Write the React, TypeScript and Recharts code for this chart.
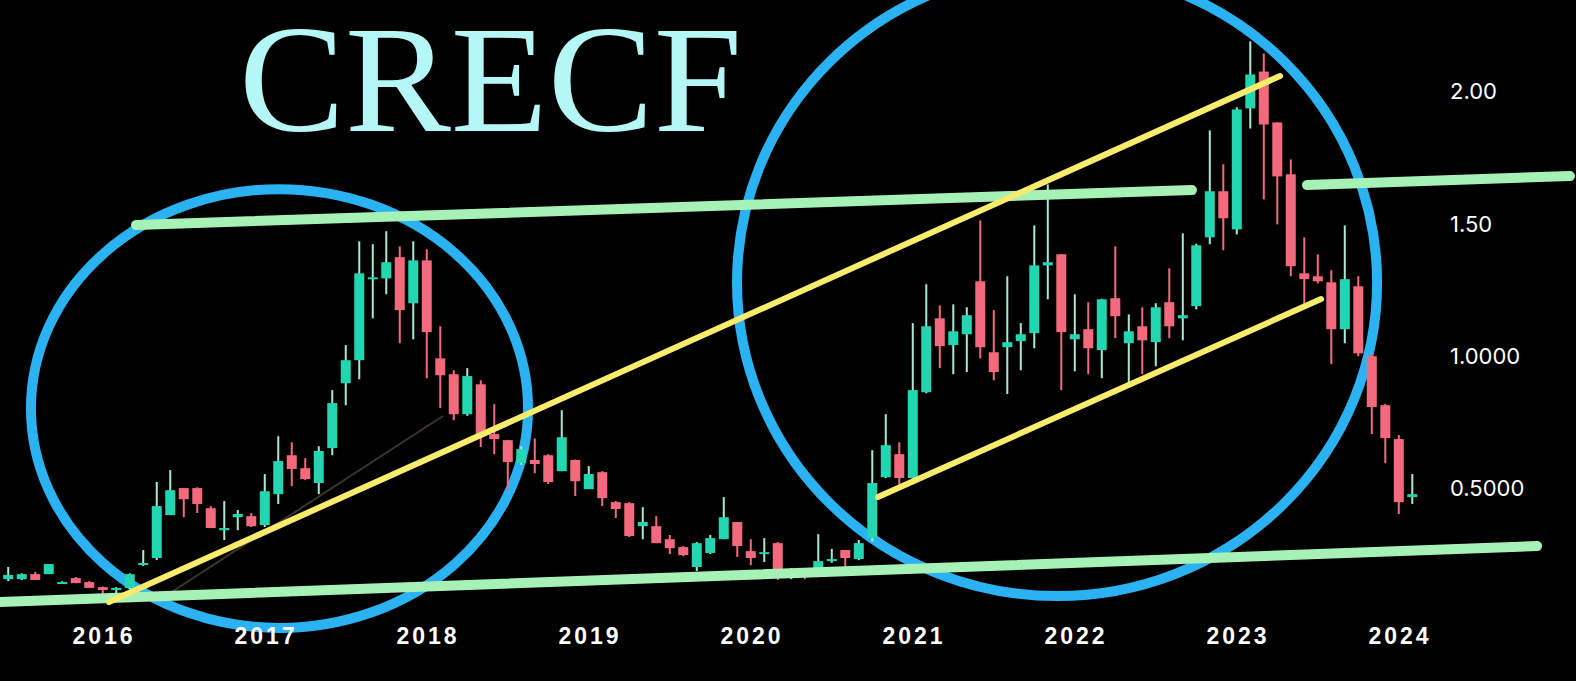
import React from 'react'
import {
  ComposedChart,
  Bar,
  XAxis,
  YAxis,
  ReferenceLine,
  ReferenceArea
} from 'recharts'

// monthly candles, first one is Jun 2015
const startYear = 2015
const startMonth = 6

const opens = [
  0.158, 0.158, 0.177, 0.177, 0.143, 0.162, 0.147, 0.128, 0.117, 0.125,
  0.215, 0.238, 0.400, 0.502, 0.502, 0.426, 0.343, 0.392, 0.396, 0.362,
  0.479, 0.626, 0.577, 0.521, 0.653, 0.898, 0.985, 1.291, 1.294, 1.374,
  1.200, 1.362, 0.992, 0.932, 0.781, 0.894, 0.706, 0.683, 0.596, 0.608,
  0.626, 0.566, 0.608, 0.498, 0.562, 0.449, 0.445, 0.358, 0.358, 0.309,
  0.279, 0.204, 0.257, 0.309, 0.374, 0.264, 0.253, 0.294, 0.170, 0.175,
  0.189, 0.226, 0.268, 0.234, 0.313, 0.543, 0.630, 0.540, 0.864, 1.143,
  1.042, 1.083, 1.283, 1.015, 1.034, 1.057, 1.087, 1.343, 1.385, 1.064,
  1.102, 1.023, 1.219, 1.049, 1.113, 1.053, 1.204, 1.143, 1.189, 1.449,
  1.623, 1.479, 1.936, 2.075, 1.883, 1.687, 1.313, 1.302, 1.279, 1.102,
  1.264, 1.000, 0.815, 0.687, 0.468
]
const highs = [
  0.204, 0.180, 0.185, 0.215, 0.150, 0.166, 0.150, 0.130, 0.128, 0.180,
  0.268, 0.525, 0.570, 0.502, 0.505, 0.434, 0.453, 0.419, 0.408, 0.555,
  0.698, 0.675, 0.615, 0.660, 0.872, 1.042, 1.434, 1.423, 1.472, 1.415,
  1.434, 1.404, 1.113, 0.947, 0.955, 0.909, 0.819, 0.683, 0.660, 0.690,
  0.630, 0.796, 0.610, 0.585, 0.566, 0.453, 0.449, 0.430, 0.396, 0.325,
  0.283, 0.298, 0.325, 0.468, 0.374, 0.309, 0.313, 0.298, 0.200, 0.180,
  0.328, 0.272, 0.268, 0.306, 0.645, 0.781, 0.675, 1.125, 1.272, 1.192,
  1.196, 1.185, 1.513, 1.174, 1.302, 1.125, 1.494, 1.649, 1.385, 1.234,
  1.204, 1.217, 1.415, 1.158, 1.185, 1.200, 1.332, 1.464, 1.425, 1.853,
  1.725, 1.940, 2.189, 2.143, 1.883, 1.743, 1.449, 1.385, 1.325, 1.494,
  1.302, 1.011, 0.820, 0.702, 0.555
]
const lows = [
  0.151, 0.155, 0.155, 0.177, 0.140, 0.143, 0.125, 0.102, 0.098, 0.120,
  0.208, 0.230, 0.400, 0.392, 0.408, 0.351, 0.306, 0.343, 0.355, 0.355,
  0.442, 0.509, 0.532, 0.479, 0.626, 0.815, 0.913, 1.143, 1.234, 1.049,
  1.064, 0.917, 0.804, 0.758, 0.775, 0.657, 0.630, 0.498, 0.590, 0.558,
  0.517, 0.566, 0.472, 0.498, 0.434, 0.389, 0.317, 0.309, 0.294, 0.253,
  0.245, 0.189, 0.253, 0.309, 0.242, 0.211, 0.223, 0.155, 0.158, 0.158,
  0.185, 0.220, 0.200, 0.230, 0.300, 0.540, 0.509, 0.530, 0.860, 0.955,
  0.932, 0.940, 0.992, 0.909, 0.857, 0.947, 1.030, 1.215, 0.872, 0.943,
  0.932, 0.917, 1.068, 0.898, 0.932, 0.962, 1.068, 1.060, 1.177, 1.423,
  1.400, 1.460, 1.860, 1.592, 1.498, 1.302, 1.196, 1.275, 0.970, 1.049,
  1.000, 0.706, 0.596, 0.404, 0.442
]
const closes = [
  0.174, 0.177, 0.155, 0.215, 0.147, 0.143, 0.125, 0.117, 0.125, 0.177,
  0.219, 0.434, 0.494, 0.460, 0.442, 0.351, 0.351, 0.404, 0.358, 0.490,
  0.604, 0.574, 0.536, 0.642, 0.823, 0.985, 1.313, 1.298, 1.355, 1.174,
  1.362, 1.091, 0.928, 0.781, 0.925, 0.706, 0.687, 0.600, 0.649, 0.593,
  0.525, 0.694, 0.528, 0.555, 0.464, 0.423, 0.321, 0.374, 0.294, 0.275,
  0.249, 0.294, 0.313, 0.392, 0.283, 0.238, 0.260, 0.181, 0.175, 0.170,
  0.226, 0.234, 0.238, 0.294, 0.521, 0.664, 0.540, 0.872, 1.113, 1.038,
  1.094, 1.155, 1.034, 0.940, 1.053, 1.083, 1.343, 1.355, 1.091, 1.083,
  1.030, 1.215, 1.151, 1.094, 1.060, 1.185, 1.113, 1.155, 1.419, 1.623,
  1.521, 1.932, 2.064, 1.875, 1.679, 1.340, 1.291, 1.283, 1.102, 1.291,
  1.011, 0.808, 0.691, 0.449, 0.479
]

const yearLabels = ['2016', '2017', '2018', '2019', '2020', '2021', '2022', '2023', '2024']
const yearTickIdx = [7, 19, 31, 43, 55, 67, 79, 91, 103]

const priceTicks = [0.5, 1, 1.5, 2]
const priceLabels = ['0.5000', '1.0000', '1.50', '2.00']

// drawing annotations, in (month index, price)
const circles = [
  { x1: 1.7, x2: 38.52, y1: -0.026, y2: 1.631 },
  { x1: 54.0, x2: 101.41, y1: 0.094, y2: 2.463 }
]
const greenLines = [
  [{ x: 9.48, y: 1.4955 }, { x: 87.7, y: 1.6276 }],
  [{ x: 96.22, y: 1.6465 }, { x: 115.7, y: 1.6805 }],
  [{ x: -0.593, y: 0.0718 }, { x: 113.26, y: 0.2832 }]
]
const yellowLines = [
  [{ x: 7.48, y: 0.0718 }, { x: 94.22, y: 2.0582 }],
  [{ x: 64.44, y: 0.4683 }, { x: 97.26, y: 1.216 }]
]
const faintLine = [{ x: 11.78, y: 0.0982 }, { x: 32.22, y: 0.7742 }]

const GREEN = '#22d6b2'
const GREEN_WICK = '#a8e9d6'
const RED = '#f46a7d'
const BLUE = '#2ab2f2'
const MINT = '#a6f2b6'
const YELLOW = '#f9ec6c'

const data = opens.map((o, i) => {
  const m = startMonth - 1 + i
  return {
    idx: i,
    month: `${startYear + Math.floor(m / 12)}-${String((m % 12) + 1).padStart(2, '0')}`,
    open: o,
    high: highs[i],
    low: lows[i],
    close: closes[i],
    range: [lows[i], highs[i]]
  }
})

const Candle = (props: any) => {
  const { x, y, width, height, payload } = props
  if (x == null || y == null || !payload) return null
  const top = Math.min(y, y + height)
  const h = Math.abs(height)
  const span = payload.high - payload.low
  const ppu = span > 0 ? h / span : 0
  const yO = top + (payload.high - payload.open) * ppu
  const yC = top + (payload.high - payload.close) * ppu
  const up = payload.close >= payload.open
  const bodyTop = Math.min(yO, yC)
  const bodyH = Math.max(2, Math.abs(yO - yC))
  const cx = x + width / 2
  return (
    <g>
      <rect x={cx - 1} y={top} width={2} height={Math.max(h, 2)} fill={up ? GREEN_WICK : RED} />
      <rect x={x} y={bodyTop} width={width} height={bodyH} fill={up ? GREEN : RED} />
    </g>
  )
}

const Ring = (props: any) => {
  const { x, y, width, height } = props
  if (x == null || y == null) return null
  const t = Math.min(y, y + height)
  return (
    <ellipse
      cx={x + width / 2}
      cy={t + Math.abs(height) / 2}
      rx={Math.abs(width) / 2}
      ry={Math.abs(height) / 2}
      fill="none"
      stroke={BLUE}
      strokeWidth={10}
    />
  )
}

const YearTick = (props: any) => {
  const { x, y, payload } = props
  const k = yearTickIdx.indexOf(payload.value)
  return (
    <text
      x={x + 1.5}
      y={y}
      dy="0.71em"
      textAnchor="middle"
      fill="#ffffff"
      fontSize={23}
      fontWeight={700}
      fontFamily="'Liberation Sans', Arial, sans-serif"
      letterSpacing={3}
    >
      {k >= 0 ? yearLabels[k] : ''}
    </text>
  )
}

export default function App() {
  return (
    <div style={{ position: 'fixed', left: 0, top: 0, width: 1576, height: 681, background: '#000', overflow: 'hidden' }}>
      <ComposedChart
        width={1576}
        height={681}
        data={data}
        margin={{ top: 12, right: 0, bottom: 0, left: 0 }}
      >
        <XAxis
          dataKey="idx"
          type="number"
          domain={[-0.5926, 105.33]}
          allowDataOverflow
          ticks={yearTickIdx}
          interval={0}
          tick={<YearTick />}
          tickLine={false}
          axisLine={false}
          tickSize={0}
          tickMargin={7}
          height={60}
        />
        <YAxis
          orientation="right"
          type="number"
          domain={[0, 2.3]}
          allowDataOverflow
          ticks={priceTicks}
          interval={0}
          tickFormatter={(v: number) => priceLabels[priceTicks.indexOf(v)] ?? ''}
          tick={{ fill: '#ffffff', fontSize: 22, fontFamily: 'Inter, sans-serif' }}
          tickLine={false}
          axisLine={false}
          tickSize={0}
          tickMargin={20}
          width={146}
        />
        <Bar dataKey="range" barSize={10} shape={<Candle />} isAnimationActive={false} />
        {circles.map((c, i) => (
          <ReferenceArea
            key={'c' + i}
            x1={c.x1}
            x2={c.x2}
            y1={c.y1}
            y2={c.y2}
            ifOverflow="visible"
            shape={<Ring />}
          />
        ))}
        <ReferenceLine
          segment={faintLine}
          ifOverflow="visible"
          stroke="#3a3526"
          strokeWidth={2}
        />
        {greenLines.map((s, i) => (
          <ReferenceLine
            key={'g' + i}
            segment={s}
            ifOverflow="visible"
            stroke={MINT}
            strokeWidth={10}
            strokeLinecap="round"
          />
        ))}
        {yellowLines.map((s, i) => (
          <ReferenceLine
            key={'y' + i}
            segment={s}
            ifOverflow="visible"
            stroke={YELLOW}
            strokeWidth={6}
            strokeLinecap="round"
          />
        ))}
      </ComposedChart>
      <svg width={1576} height={681} style={{ position: 'absolute', left: 0, top: 0, pointerEvents: 'none' }}>
        <text
          x={239}
          y={131}
          fill="#b4f7f6"
          fontSize={153}
          fontFamily="'Liberation Serif', 'Times New Roman', serif"
          textLength={503}
          lengthAdjust="spacingAndGlyphs"
        >
          CRECF
        </text>
      </svg>
    </div>
  )
}
